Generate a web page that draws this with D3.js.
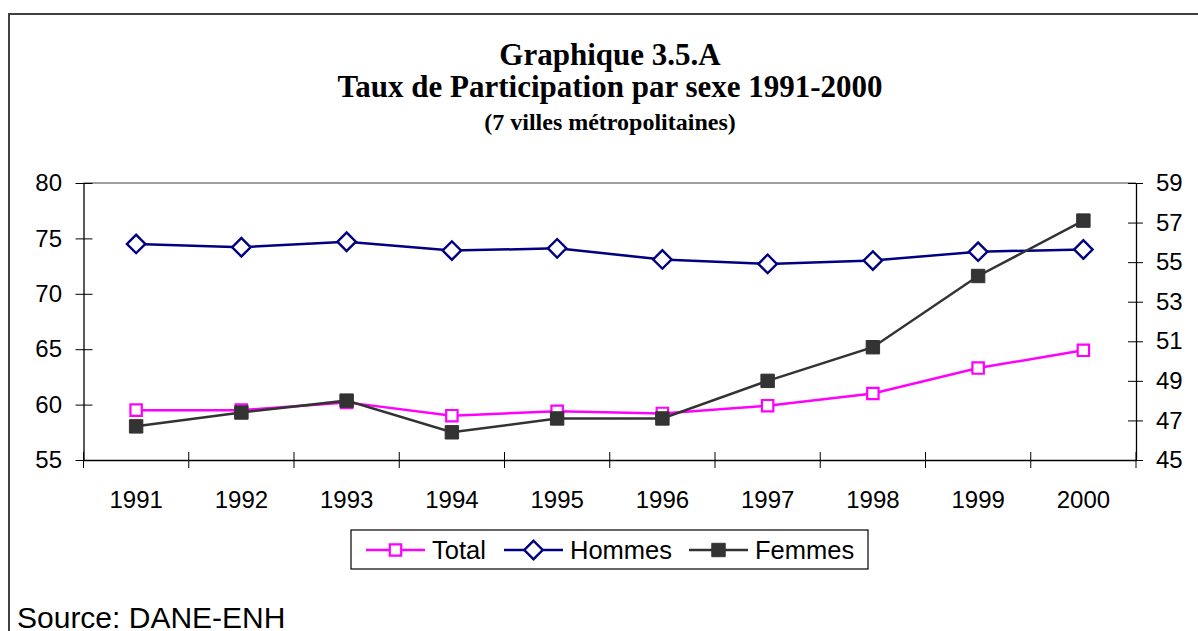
<!DOCTYPE html>
<html>
<head>
<meta charset="utf-8">
<script src="https://cdn.jsdelivr.net/npm/d3@7/dist/d3.min.js"></script>
<style>
  body { margin: 0; background: #fff; }
  svg { display: block; }
</style>
</head>
<body>
<svg id="chart"></svg>
<script>
// data
var years = ["1991", "1992", "1993", "1994", "1995", "1996", "1997", "1998", "1999", "2000"];
var total = [59.5, 59.5, 60.2, 59.0, 59.4, 59.2, 59.9, 61.0, 63.3, 64.9];
var hommes = [74.5, 74.2, 74.7, 73.9, 74.1, 73.1, 72.7, 73.0, 73.8, 74.0];
var femmes = [46.7, 47.4, 48.0, 46.4, 47.1, 47.1, 49.0, 50.7, 54.3, 57.1];
var leftTicks = [55, 60, 65, 70, 75, 80];
var rightTicks = [45, 47, 49, 51, 53, 55, 57, 59];

var width = 1198, height = 631;
var plotLeft = 83.5, plotRight = 1136, plotTop = 183, plotBottom = 460;

var svg = d3.select("#chart")
    .attr("width", width)
    .attr("height", height);

// outer frame (only left and top visible)
svg.append("rect")
    .attr("x", 9).attr("y", 14)
    .attr("width", width + 20).attr("height", height + 20)
    .attr("fill", "none")
    .attr("stroke", "#404040")
    .attr("stroke-width", 2);

// titles
svg.append("text").attr("x", 610).attr("y", 65).attr("text-anchor", "middle")
    .text("Graphique 3.5.A")
    .style("font-family", "'Liberation Serif', 'Times New Roman', serif").style("font-weight", "bold").style("font-size", "31px");
svg.append("text").attr("x", 610).attr("y", 97).attr("text-anchor", "middle")
    .text("Taux de Participation par sexe 1991-2000")
    .style("font-family", "'Liberation Serif', 'Times New Roman', serif").style("font-weight", "bold").style("font-size", "31px");
svg.append("text").attr("x", 610).attr("y", 130).attr("text-anchor", "middle")
    .text("(7 villes métropolitaines)")
    .style("font-family", "'Liberation Serif', 'Times New Roman', serif").style("font-weight", "bold").style("font-size", "24px");

// scales
var x = d3.scaleBand()
    .domain(years)
    .range([plotLeft, plotRight])
    .padding(0);

var yLeft = d3.scaleLinear().domain([55, 80]).range([plotBottom, plotTop]);
var yRight = d3.scaleLinear().domain([45, 59]).range([plotBottom, plotTop]);

// top border of plot area
svg.append("line")
    .attr("x1", plotLeft).attr("x2", plotRight)
    .attr("y1", plotTop).attr("y2", plotTop)
    .attr("stroke", "#808080").attr("stroke-width", 1.5);

var tickFont = "'Liberation Sans', Arial, sans-serif";

// left axis
var gLeft = svg.append("g")
    .attr("transform", "translate(" + plotLeft + ",0)")
    .call(d3.axisLeft(yLeft).tickValues(leftTicks).tickSize(8).tickPadding(13.5).tickSizeOuter(0));
gLeft.selectAll(".tick line").attr("x1", 9);

// right axis
var gRight = svg.append("g")
    .attr("transform", "translate(" + plotRight + ",0)")
    .call(d3.axisRight(yRight).tickValues(rightTicks).tickSize(7).tickPadding(13).tickSizeOuter(0));
gRight.selectAll(".tick line").attr("x1", -8);

// bottom axis (labels centred in each band)
var gBottom = svg.append("g")
    .attr("transform", "translate(0," + plotBottom + ")")
    .call(d3.axisBottom(x).tickSize(0).tickPadding(31).tickSizeOuter(0));

// x ticks at band boundaries
var bounds = years.map(function(d) { return x(d); }).concat([x.range()[1]]);
gBottom.selectAll(".bound")
    .data(bounds)
    .enter()
    .append("line")
    .attr("class", "bound")
    .attr("x1", function(d) { return d; })
    .attr("x2", function(d) { return d; })
    .attr("y1", -8).attr("y2", 8)
    .attr("stroke", "#000");

[gLeft, gRight, gBottom].forEach(function(g) {
    g.selectAll("path.domain").attr("stroke", "#000").attr("stroke-width", 1.3);
    g.selectAll(".tick line").attr("stroke", "#000");
    g.selectAll("text")
        .style("font-family", tickFont)
        .style("font-size", "24px")
        .attr("fill", "#000");
});

// series
var series = [
    { name: "Total", values: total, scale: yLeft, color: "#ff00ff", symbol: "square" },
    { name: "Hommes", values: hommes, scale: yLeft, color: "#000080", symbol: "diamond" },
    { name: "Femmes", values: femmes, scale: yRight, color: "#333333", symbol: "filled" }
];

function drawMarker(g, s, cx, cy) {
    if (s.symbol === "square") {
        g.append("path")
            .attr("d", d3.symbol().type(d3.symbolSquare).size(130)())
            .attr("transform", "translate(" + cx + "," + cy + ")")
            .attr("fill", "#fff").attr("stroke", s.color).attr("stroke-width", 2.2);
    } else if (s.symbol === "diamond") {
        g.append("path")
            .attr("d", d3.symbol().type(d3.symbolSquare).size(170)())
            .attr("transform", "translate(" + cx + "," + cy + ") rotate(45)")
            .attr("fill", "#fff").attr("stroke", s.color).attr("stroke-width", 2.4);
    } else {
        g.append("path")
            .attr("d", d3.symbol().type(d3.symbolSquare).size(180)())
            .attr("transform", "translate(" + cx + "," + cy + ")")
            .attr("fill", s.color).attr("stroke", s.color).attr("stroke-width", 1);
    }
}

series.forEach(function(s) {
    var line = d3.line()
        .x(function(d, i) { return x(years[i]) + x.bandwidth() / 2; })
        .y(function(d) { return s.scale(d); });

    var g = svg.append("g").attr("class", "series");
    g.append("path")
        .datum(s.values)
        .attr("d", line)
        .attr("fill", "none")
        .attr("stroke", s.color)
        .attr("stroke-width", 2.5);

    s.values.forEach(function(v, i) {
        drawMarker(g, s, x(years[i]) + x.bandwidth() / 2, s.scale(v));
    });
});

// legend
var legend = svg.append("g");
legend.append("rect")
    .attr("x", 351).attr("y", 530)
    .attr("width", 517).attr("height", 39)
    .attr("fill", "#fff").attr("stroke", "#000").attr("stroke-width", 1.2);

var legendPos = [366, 504, 689];
series.forEach(function(s, i) {
    var lx = legendPos[i];
    var ly = 550;
    legend.append("line")
        .attr("x1", lx).attr("x2", lx + 59)
        .attr("y1", ly).attr("y2", ly)
        .attr("stroke", s.color).attr("stroke-width", 2.5);
    drawMarker(legend, s, lx + 29.5, ly);
    legend.append("text")
        .attr("x", lx + 66).attr("y", ly + 9)
        .text(s.name)
        .style("font-family", tickFont)
        .style("font-size", "25.5px");
});

// source
svg.append("text")
    .attr("x", 17).attr("y", 628)
    .text("Source: DANE-ENH")
    .style("font-family", tickFont)
    .style("font-size", "30px");
</script>
</body>
</html>
